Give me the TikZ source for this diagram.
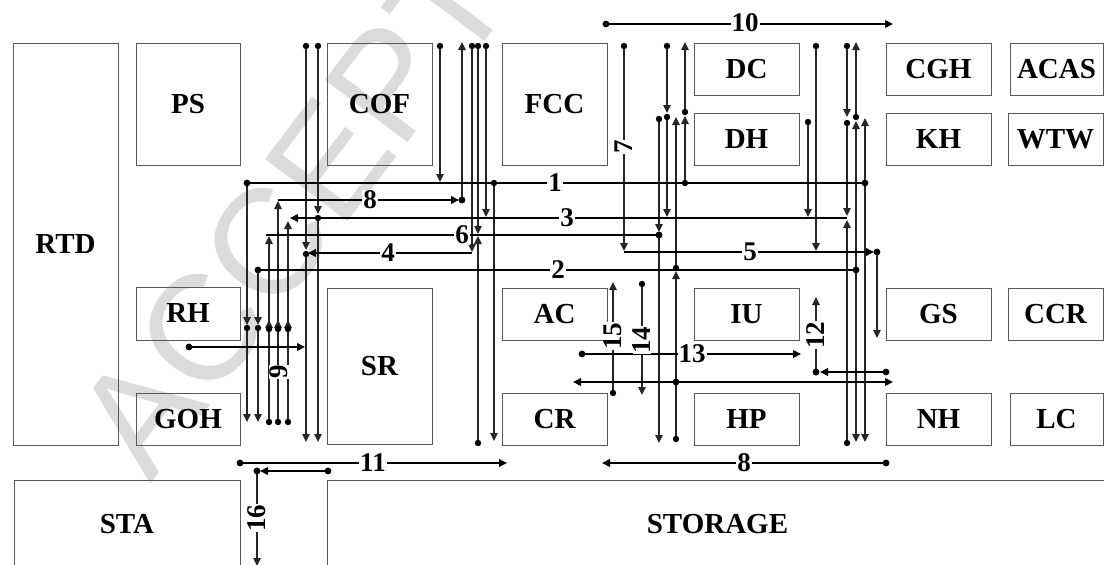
\documentclass[tikz,border=0pt]{standalone}
\usepackage{fontspec}
\setmainfont{Liberation Serif}
\newfontfamily\wmfont{Liberation Sans}
\usetikzlibrary{arrows.meta}
\begin{document}
\begin{tikzpicture}[x=1pt,y=-1pt,
  box/.style={draw=black!65, line width=0.9pt, inner sep=0pt, font=\bfseries\fontsize{29}{30}\selectfont},
  lbl/.style={fill=white, inner sep=1pt, font=\bfseries\fontsize{27}{27}\selectfont},
  vlbl/.style={lbl, rotate=90, inner sep=0.5pt},
  hl/.style={line width=2.3pt},
  vl/.style={line width=1.2pt, black!85},
  tip/.style={-{Triangle[length=8pt,width=7.5pt]}},
  tips/.style={{Triangle[length=8pt,width=7.5pt]}-{Triangle[length=8pt,width=7.5pt]}}
]
\useasboundingbox (0,0) rectangle (1104,565);
\fill[white] (0,0) rectangle (1104,565);
% watermark
\node[font=\wmfont\fontsize{150}{150}\selectfont, text=black!14, rotate=53, anchor=base west, inner sep=0pt] (wm) at (150,485) {ACCEPTED};
% boxes
\node[box, minimum width=105pt, minimum height=402pt] (RTD) at (65.5,244) {RTD};
\node[box, minimum width=104pt, minimum height=122pt] (PS) at (188,104) {PS};
\node[box, minimum width=104pt, minimum height=53pt] (RH) at (188,313.5) {RH};
\node[box, minimum width=104pt, minimum height=52pt] (GOH) at (188,419) {GOH};
\node[box, minimum width=105pt, minimum height=122pt] (COF) at (379.5,104) {COF};
\node[box, minimum width=105pt, minimum height=156pt] (SR) at (379.5,366) {SR};
\node[box, minimum width=105pt, minimum height=122pt] (FCC) at (554.5,104) {FCC};
\node[box, minimum width=105pt, minimum height=52pt] (DC) at (746.5,69) {DC};
\node[box, minimum width=105pt, minimum height=52pt] (DH) at (746.5,139) {DH};
\node[box, minimum width=105pt, minimum height=52pt] (AC) at (554.5,314) {AC};
\node[box, minimum width=105pt, minimum height=52pt] (CR) at (554.5,419) {CR};
\node[box, minimum width=105pt, minimum height=52pt] (IU) at (746.5,314) {IU};
\node[box, minimum width=105pt, minimum height=52pt] (HP) at (746.5,419) {HP};
\node[box, minimum width=105pt, minimum height=52pt] (CGH) at (938.5,69) {CGH};
\node[box, minimum width=105pt, minimum height=52pt] (KH) at (938.5,139) {KH};
\node[box, minimum width=105pt, minimum height=52pt] (GS) at (938.5,314) {GS};
\node[box, minimum width=105pt, minimum height=52pt] (NH) at (938.5,419) {NH};
\node[box, minimum width=93pt, minimum height=52pt] (ACAS) at (1056.5,69) {ACAS};
\node[box, minimum width=95pt, minimum height=52pt] (WTW) at (1055.5,139) {WTW};
\node[box, minimum width=95pt, minimum height=52pt] (CCR) at (1055.5,314) {CCR};
\node[box, minimum width=93pt, minimum height=52pt] (LC) at (1056.5,419) {LC};
\node[box, minimum width=226pt, minimum height=88pt] (STA) at (127,524) {STA};
\node[box, minimum width=781pt, minimum height=88pt] (STORAGE) at (717.5,524) {STORAGE};

% ---------- vertical connectors ----------
\coordinate (a247t) at (247,183); \coordinate (a247m) at (247,325); \coordinate (a247d) at (247,328); \coordinate (a247b) at (247,422);
\coordinate (a258t) at (258,270); \coordinate (a258m) at (258,325); \coordinate (a258d) at (258,328); \coordinate (a258b) at (258,422);
\draw[vl,tip] (a247t) -- (a247m); \draw[vl,tip] (a247d) -- (a247b);
\draw[vl,tip] (a258t) -- (a258m); \draw[vl,tip] (a258d) -- (a258b);
\foreach \x/\t in {269/236,278/201,288/221}{
  \coordinate (u\x b) at (\x,422); \coordinate (u\x m) at (\x,320); \coordinate (u\x d) at (\x,329); \coordinate (u\x t) at (\x,\t);
  \draw[vl,tip] (u\x b) -- (u\x m);
  \draw[vl,tip] (u\x d) -- (u\x t);
  \fill (u\x b) circle (3.2); \fill (u\x d) circle (3.2);
}
\fill (a247d) circle (3.2); \fill (a258d) circle (3.2);
\node[vlbl] (l9) at (279,372) {9};
% COF cluster
\coordinate (b306t) at (306,46); \coordinate (b306m) at (306,250); \coordinate (b306d) at (306,254); \coordinate (b306b) at (306,442);
\draw[vl,tip] (b306t) -- (b306m); \draw[vl,tip] (b306d) -- (b306b);
\coordinate (b318t) at (318,46); \coordinate (b318m) at (318,214); \coordinate (b318d) at (318,218); \coordinate (b318b) at (318,442);
\draw[vl,tip] (b318t) -- (b318m); \draw[vl,tip] (b318d) -- (b318b);
\coordinate (b440t) at (440,46); \coordinate (b440b) at (440,182);
\draw[vl,tip] (b440t) -- (b440b);
\coordinate (b462b) at (462,200); \coordinate (b462t) at (462,42);
\draw[vl,tip] (b462b) -- (b462t);
\coordinate (b472t) at (472,46); \coordinate (b472b) at (472,252);
\draw[vl,tip] (b472t) -- (b472b);
\coordinate (b478t) at (478,46); \coordinate (b478m) at (478,234); \coordinate (b478n) at (478,236); \coordinate (b478b) at (478,443);
\draw[vl,tip] (b478t) -- (b478m); \draw[vl,tip] (b478b) -- (b478n);
\coordinate (b486t) at (486,46); \coordinate (b486b) at (486,217);
\draw[vl,tip] (b486t) -- (b486b);
\coordinate (b494t) at (494,183); \coordinate (b494b) at (494,441);
\draw[vl,tip] (b494t) -- (b494b);
\foreach \c in {b306t,b306d,b318t,b318d,b440t,b462b,b472t,b478t,b478b,b486t,b494t} {\fill (\c) circle (3.2);}
% FCC / DH cluster
\coordinate (c624t) at (624,46); \coordinate (c624b) at (624,251);
\draw[vl,tip] (c624t) -- (c624b);
\node[vlbl] (l7) at (624,147) {7};
\coordinate (c659t) at (659,119); \coordinate (c659m) at (659,232); \coordinate (c659d) at (659,235); \coordinate (c659b) at (659,443);
\draw[vl,tip] (c659t) -- (c659m); \draw[vl,tip] (c659d) -- (c659b);
\coordinate (c667t) at (667,46); \coordinate (c667m) at (667,113); \coordinate (c667d) at (667,117); \coordinate (c667b) at (667,217);
\draw[vl,tip] (c667t) -- (c667m); \draw[vl,tip] (c667d) -- (c667b);
\coordinate (c676b) at (676,439); \coordinate (c676m) at (676,271); \coordinate (c676d) at (676,268); \coordinate (c676t) at (676,117);
\draw[vl,tip] (c676b) -- (c676m); \draw[vl,tip] (c676d) -- (c676t);
\coordinate (c685b) at (685,183); \coordinate (c685m) at (685,116); \coordinate (c685d) at (685,112); \coordinate (c685t) at (685,42);
\draw[vl,tip] (c685b) -- (c685m); \draw[vl,tip] (c685d) -- (c685t);
\foreach \c in {c624t,c659t,c659d,c667t,c667d,c676b,c676d,c685b,c685d} {\fill (\c) circle (3.2);}
% KH cluster
\coordinate (d808t) at (808,122); \coordinate (d808b) at (808,217);
\draw[vl,tip] (d808t) -- (d808b);
\coordinate (d816t) at (816,46); \coordinate (d816b) at (816,251);
\draw[vl,tip] (d816t) -- (d816b);
\coordinate (d847t) at (847,46); \coordinate (d847m) at (847,117); \coordinate (d847d) at (847,123); \coordinate (d847n) at (847,216); \coordinate (d847o) at (847,220); \coordinate (d847b) at (847,443);
\draw[vl,tip] (d847t) -- (d847m); \draw[vl,tip] (d847d) -- (d847n); \draw[vl,tip] (d847b) -- (d847o);
\coordinate (d856c) at (856,270); \coordinate (d856m) at (856,121); \coordinate (d856d) at (856,117); \coordinate (d856t) at (856,42); \coordinate (d856b) at (856,442);
\draw[vl,tip] (d856c) -- (d856m); \draw[vl,tip] (d856d) -- (d856t); \draw[vl,tip] (d856c) -- (d856b);
\coordinate (d865c) at (865,183); \coordinate (d865t) at (865,118); \coordinate (d865b) at (865,442);
\draw[vl,tip] (d865c) -- (d865t); \draw[vl,tip] (d865c) -- (d865b);
\coordinate (d877t) at (877,252); \coordinate (d877b) at (877,338);
\draw[vl,tip] (d877t) -- (d877b);
\foreach \c in {d808t,d816t,d847t,d847d,d847b,d856d} {\fill (\c) circle (3.2);}
% small verticals 12, 14, 15, 16
\coordinate (e816b) at (816,372); \coordinate (e816t) at (816,297);
\draw[vl,tip] (e816b) -- (e816t);
\node[vlbl] (l12) at (816,335) {12};
\coordinate (e613b) at (613,393); \coordinate (e613t) at (613,282);
\draw[vl,tip] (e613b) -- (e613t);
\coordinate (e642t) at (642,284); \coordinate (e642b) at (642,395);
\draw[vl,tip] (e642t) -- (e642b);
\coordinate (e257t) at (257,471); \coordinate (e257b) at (257,566);
\draw[vl,tip] (e257t) -- (e257b);
\foreach \c in {e816b,e613b,e642t,e257t} {\fill (\c) circle (3.2);}

% ---------- horizontal connectors ----------
\coordinate (h1L) at (247,183); \coordinate (h1R) at (865,183);
\draw[hl] (h1L) -- (h1R); \fill (h1L) circle (3.4); \fill (h1R) circle (3.4);
\node[lbl] (l1) at (555,183) {1};
\coordinate (h8L) at (278,200); \coordinate (h8R) at (459,200);
\draw[hl,tip] (h8L) -- (h8R); \fill (b462b) circle (3.4);
\node[lbl] (l8a) at (370,200) {8};
\coordinate (h3R) at (847,218); \coordinate (h3L) at (290,218);
\draw[hl,tip] (h3R) -- (h3L);
\node[lbl] (l3) at (567,218) {3};
\coordinate (h6L) at (266,235); \coordinate (h6R) at (659,235);
\draw[hl] (h6L) -- (h6R); \fill (h6R) circle (3.4);
\node[lbl] (l6) at (462,235) {6};
\coordinate (h4R) at (472,253); \coordinate (h4L) at (308,253);
\draw[hl,tip] (h4R) -- (h4L);
\node[lbl] (l4) at (388,253) {4};
\coordinate (h5L) at (624,252); \coordinate (h5R) at (874,252);
\draw[hl,tip] (h5L) -- (h5R); \fill (d877t) circle (3.4);
\node[lbl] (l5) at (750,252) {5};
\coordinate (h2L) at (258,270); \coordinate (h2R) at (856,270);
\draw[hl] (h2L) -- (h2R); \fill (h2L) circle (3.4); \fill (h2R) circle (3.4);
\node[lbl] (l2) at (558,270) {2};
\coordinate (hrhL) at (189,347); \coordinate (hrhR) at (305,347);
\draw[hl,tip] (hrhL) -- (hrhR); \fill (hrhL) circle (3.4);
\coordinate (h13L) at (582,354); \coordinate (h13R) at (801,354);
\draw[hl,tip] (h13L) -- (h13R); \fill (h13L) circle (3.4);
\node[lbl] (l13) at (692,354) {13};
\coordinate (hwL) at (573,382); \coordinate (hwR) at (893,382); \coordinate (hwM) at (676,382);
\draw[hl,tips] (hwL) -- (hwR); \fill (hwM) circle (3.4);
\coordinate (h12R) at (886,372); \coordinate (h12L) at (820,372);
\draw[hl,tip] (h12R) -- (h12L); \fill (h12R) circle (3.4); \fill (e816b) circle (3.4);
\coordinate (h11L) at (240,463); \coordinate (h11R) at (507,463);
\draw[hl,tip] (h11L) -- (h11R); \fill (h11L) circle (3.4);
\node[lbl] (l11) at (373,463) {11};
\coordinate (h16R) at (328,471); \coordinate (h16L) at (260,471);
\draw[hl,tip] (h16R) -- (h16L); \fill (h16R) circle (3.4); \fill (e257t) circle (3.4);
\coordinate (h8bR) at (886,463); \coordinate (h8bL) at (602,463);
\draw[hl,tip] (h8bR) -- (h8bL); \fill (h8bR) circle (3.4);
\node[lbl] (l8b) at (744,463) {8};
\coordinate (h10L) at (606,24); \coordinate (h10R) at (893,24);
\draw[hl,tip] (h10L) -- (h10R); \fill (h10L) circle (3.4);
\node[lbl] (l10) at (745,23) {10};
% rotated labels on short verticals
\node[vlbl] (l15) at (613,336) {15};
\node[vlbl] (l14) at (642,340) {14};
\node[vlbl] (l16) at (257,518) {16};
\end{tikzpicture}
\end{document}
